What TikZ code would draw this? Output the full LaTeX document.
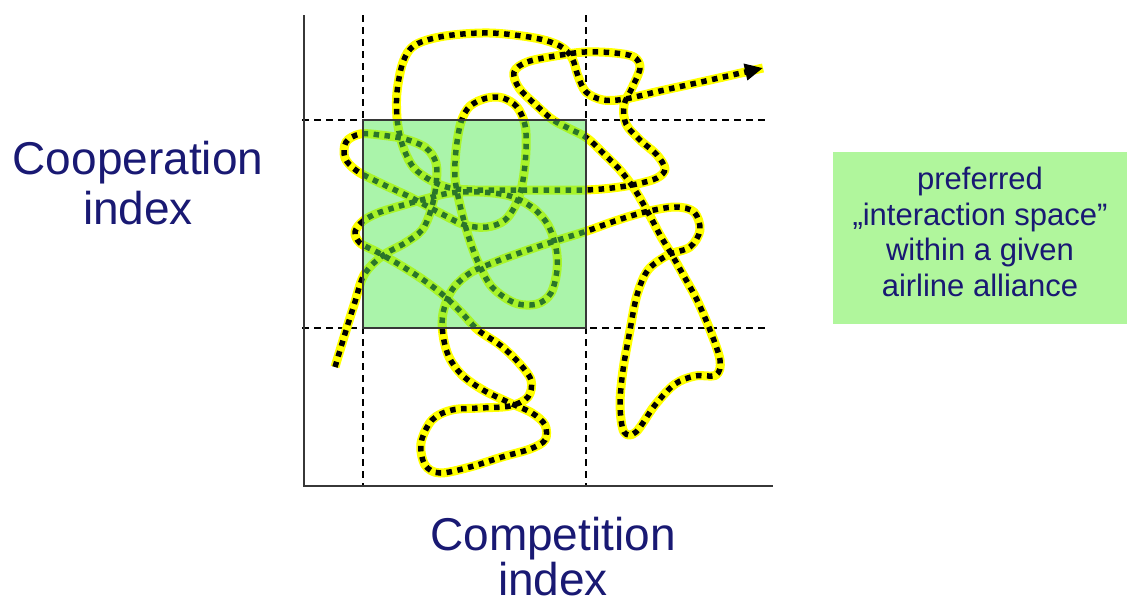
\documentclass[tikz,border=0pt]{standalone}
\usepackage{fontspec}
\setmainfont{Liberation Sans}
\usepackage{tikz}
\usetikzlibrary{arrows.meta,positioning}
\definecolor{labelblue}{RGB}{25,25,115}
\definecolor{spacegreen}{RGB}{176,246,156}
\definecolor{boxgreen}{RGB}{85,234,85}
\definecolor{trailyellow}{RGB}{255,255,0}
\definecolor{axisgray}{RGB}{55,55,55}

\begin{document}
\begin{tikzpicture}[x=1pt, y=-1pt,
    axis/.style={draw=axisgray, line width=2.4},
    guide/.style={draw=black, line width=1.1, dash pattern=on 7 off 5},
    label/.style={text=labelblue, font=\fontsize{46}{50}\selectfont, align=center, inner sep=0},
    trail/.style={draw=trailyellow, line width=9, line join=round,
        postaction={draw=black, line width=5.5, dash pattern=on 5.5 off 5.5, -{Triangle[length=18,width=16]}}},
    zone/.style={fill=boxgreen, fill opacity=0.5, draw=axisgray, line width=1.6}
]
    \useasboundingbox (0,0) rectangle (1127,606);

    % Axes corners
    \coordinate (origin) at (304,486);
    \coordinate (ytop) at (304,15);
    \coordinate (xend) at (773,486);

    % Threshold lines
    \draw[guide] (363,15) -- (363,486);
    \draw[guide] (586,15) -- (586,486);
    \draw[guide] (302,120) -- (767,120);
    \draw[guide] (302,328) -- (767,328);

    % Trajectory
    \draw[trail] plot[smooth, tension=0.55] coordinates {
        (335,367) (344,337) (354,305) (364,275) (382,256) (405,243) (422,230)
        (431,210) (436,185) (436,163) (426,148) (405,139) (380,135) (360,134)
        (346,142) (345,158) (357,171) (380,183) (410,197) (440,213) (465,225)
        (487,227) (505,220) (517,202) (523,180) (526,150) (525,125) (517,107)
        (503,98) (487,98) (470,106) (461,122) (456,150) (455,178) (460,205)
        (468,235) (478,262) (492,287) (515,303) (537,304) (551,293) (557,270)
        (556,248) (548,225) (533,208) (510,196) (480,192) (450,193) (425,199)
        (400,206) (378,213) (363,221) (355,232) (360,243) (377,252) (400,265)
        (422,279) (442,294) (460,311) (478,330) (500,345) (518,362) (531,380)
        (528,397) (510,406) (480,408) (452,410) (432,420) (421,443) (425,465)
        (440,473) (470,467) (502,457) (530,449) (545,440) (545,425) (532,413)
        (510,403) (483,390) (462,375) (449,357) (443,335) (443,313) (452,290)
        (470,273) (495,262) (525,251) (555,241) (587,231) (615,221) (645,212)
        (675,207) (694,212) (700,230) (690,247) (668,255) (648,270) (637,295)
        (630,330) (623,370) (620,405) (624,432) (636,432) (655,405) (675,384)
        (695,376) (716,375) (720,360) (710,330) (697,300) (685,278) (672,255)
        (660,235) (650,216) (635,190) (620,170) (603,153) (587,138) (570,129)
        (553,120) (537,106) (519,88) (514,72) (527,62) (555,56) (585,52)
        (615,53) (634,57) (640,68) (632,88) (624,105) (626,124) (640,140)
        (657,155) (665,169) (657,178) (637,184) (612,188) (585,190) (550,190)
        (510,190) (475,190) (450,188) (430,180) (414,168) (405,152) (400,136)
        (397,118) (397,92) (403,62) (415,45) (445,36) (490,33) (535,38)
        (560,46) (572,58) (578,76) (586,92) (603,100) (625,99) (660,91)
        (710,80) (763,68)};

    % Preferred zone
    \draw[zone] (363,120) rectangle (586,328);

    % Axes
    \draw[axis] (ytop) -- (origin) -- (xend);

    % Axis labels
    \node[label] (coop) at (138,183) {Cooperation\\index};
    \node[label, font=\fontsize{46}{45}\selectfont] (comp) at (553,557) {Competition\\index};

    % Legend box
    \node[fill=spacegreen, minimum width=294, minimum height=172, text depth=12,
          text=labelblue, font=\fontsize{31}{35.5}\selectfont, align=center]
          (space) at (980,238) {preferred\\„interaction space"\\within a given\\airline alliance};
\end{tikzpicture}
\end{document}
